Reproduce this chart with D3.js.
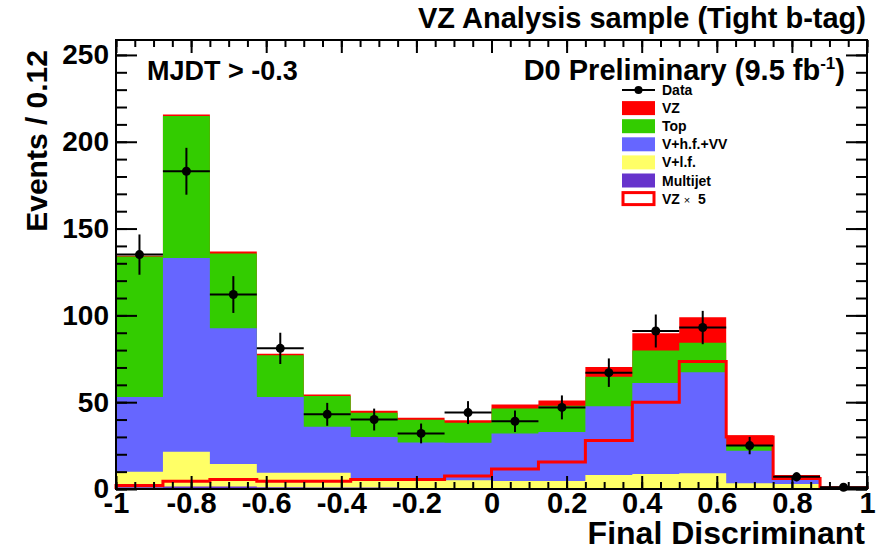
<!DOCTYPE html>
<html>
<head>
<meta charset="utf-8">
<script src="https://cdn.jsdelivr.net/npm/d3@7"></script>
<style>
  body { margin: 0; background: #fff; }
  svg { font-family: "Liberation Sans", Arial, Helvetica, sans-serif; font-weight: bold; }
</style>
</head>
<body>
<div id="chart"></div>
<script>
// 16 bins of the final discriminant, width 0.125
const binEdges = [-1, -0.875, -0.75, -0.625, -0.5, -0.375, -0.25, -0.125, 0,
                  0.125, 0.25, 0.375, 0.5, 0.625, 0.75, 0.875, 1];

// background + signal expectations per bin (stacked bottom to top)
const multijetVals = [1.0, 1.5, 1.5, 1.0, 0.8, 0.8, 0.6, 0.6, 0.5, 0.5, 0.5, 0.5, 0.5, 0.3, 0.2, 0.0];
const vlfVals      = [9.0, 19.9, 12.9, 8.4, 8.6, 4.2, 4.4, 4.4, 4.1, 4.1, 7.5, 8.1, 8.5, 3.0, 2.7, 0.0];
const vhfVals      = [43.0, 111.6, 78.2, 43.6, 26.4, 25.0, 21.8, 21.6, 27.4, 28.3, 39.6, 52.4, 58.3, 18.7, 2.3, 0.3];
const topVals      = [80.9, 81.8, 43.1, 24.0, 17.7, 13.9, 13.1, 11.5, 14.3, 15.0, 17.0, 18.7, 16.9, 3.0, 1.6, 0.1];
const vzVals       = [0.4, 0.9, 1.1, 0.9, 0.9, 1.1, 1.1, 1.5, 2.3, 3.1, 5.6, 10.0, 14.7, 6.0, 1.2, 0.15];
const vzScale = 5;

// observed events and their uncertainties
const dataVals = [135, 183, 112, 81, 43, 40, 32, 44, 39, 47, 67, 91, 93, 25, 7, 1];
const dataErr  = [11.6, 13.5, 10.6, 9.0, 6.6, 6.3, 5.7, 6.6, 6.2, 6.9, 8.2, 9.5, 9.6, 5.0, 2.6, 1.0];

const xTicks = [-1, -0.8, -0.6, -0.4, -0.2, 0, 0.2, 0.4, 0.6, 0.8, 1];
const yTicks = [0, 50, 100, 150, 200, 250];

const layers = [
  { key: "multijet", label: "Multijet",   values: multijetVals, color: "#6633cc" },
  { key: "vlf",      label: "V+l.f.",     values: vlfVals,      color: "#ffff66" },
  { key: "vhf",      label: "V+h.f.+VV",  values: vhfVals,      color: "#6666ff" },
  { key: "top",      label: "Top",        values: topVals,      color: "#33cc00" },
  { key: "vz",       label: "VZ",         values: vzVals,       color: "#ff0000" }
];

const width = 889, height = 554;
const margin = { top: 40, right: 22, bottom: 65, left: 116 };
const plotW = width - margin.left - margin.right;
const plotH = height - margin.top - margin.bottom;

const svg = d3.select("#chart").append("svg")
  .attr("width", width)
  .attr("height", height);

const x = d3.scaleLinear().domain([-1, 1]).range([0, plotW]);
const y = d3.scaleLinear().domain([0, 258.6]).range([plotH, 0]);

const g = svg.append("g").attr("transform", `translate(${margin.left},${margin.top})`);

// stack table
const table = binEdges.slice(0, -1).map((lo, i) => {
  const row = { lo: lo, hi: binEdges[i + 1] };
  layers.forEach(l => { row[l.key] = l.values[i]; });
  return row;
});
const stacked = d3.stack().keys(layers.map(l => l.key))(table);

function stepPoints(vals) {
  const pts = [];
  vals.forEach((v, i) => {
    pts.push([binEdges[i], v]);
    pts.push([binEdges[i + 1], v]);
  });
  return pts;
}

const area = d3.area()
  .x(d => x(d[0]))
  .y0(y(0))
  .y1(d => y(d[1]));

// filled histograms, drawn from the cumulative total downward
stacked.slice().reverse().forEach((s, k) => {
  const layer = layers[layers.length - 1 - k];
  g.append("path")
    .attr("d", area(stepPoints(s.map(d => d[1]))))
    .attr("fill", layer.color)
    .attr("stroke", "none");
});

// VZ x 5 outline
const outline = [[binEdges[0], 0]].concat(stepPoints(vzVals.map(v => v * vzScale)))
  .concat([[binEdges[binEdges.length - 1], 0]]);
g.append("path")
  .attr("d", d3.line().x(d => x(d[0])).y(d => y(d[1]))(outline))
  .attr("fill", "none")
  .attr("stroke", "#ff0000")
  .attr("stroke-width", 3);

// data points with error bars
const pts = g.append("g");
dataVals.forEach((v, i) => {
  const cx = x((binEdges[i] + binEdges[i + 1]) / 2);
  pts.append("line")
    .attr("x1", x(binEdges[i])).attr("x2", x(binEdges[i + 1]))
    .attr("y1", y(v)).attr("y2", y(v))
    .attr("stroke", "#000").attr("stroke-width", 2);
  pts.append("line")
    .attr("x1", cx).attr("x2", cx)
    .attr("y1", y(v - dataErr[i])).attr("y2", y(Math.min(v + dataErr[i], 258.6)))
    .attr("stroke", "#000").attr("stroke-width", 2);
  pts.append("circle")
    .attr("cx", cx).attr("cy", y(v)).attr("r", 4.5)
    .attr("fill", "#000");
});

// axes: ticks point inward on all four sides
const minorX = d3.range(0, 41).map(i => -1 + i * 0.05);
const minorY = d3.range(0, 26).map(i => i * 10);

function styleAxis(sel) {
  sel.select(".domain").remove();
  sel.selectAll("line").attr("stroke", "#000").attr("stroke-width", 2);
}

g.append("g").attr("transform", `translate(0,${plotH})`)
  .call(d3.axisBottom(x).tickValues(minorX).tickSize(-7).tickFormat(""))
  .call(styleAxis);
const xAxis = g.append("g").attr("transform", `translate(0,${plotH})`)
  .call(d3.axisBottom(x).tickValues(xTicks).tickSize(-13).tickFormat(d => String(d)))
  .call(styleAxis);
xAxis.selectAll("text")
  .attr("y", 24).attr("dy", 0)
  .attr("fill", "#000")
  .style("font-size", "29px").style("font-family", "Liberation Sans, Arial, sans-serif").style("font-weight", "bold");

g.append("g")
  .call(d3.axisTop(x).tickValues(minorX).tickSize(-7).tickFormat(""))
  .call(styleAxis);
g.append("g")
  .call(d3.axisTop(x).tickValues(xTicks).tickSize(-13).tickFormat(""))
  .call(styleAxis);

g.append("g")
  .call(d3.axisLeft(y).tickValues(minorY).tickSize(-11).tickFormat(""))
  .call(styleAxis);
const yAxis = g.append("g")
  .call(d3.axisLeft(y).tickValues(yTicks).tickSize(-21).tickPadding(7).tickFormat(d => String(d)))
  .call(styleAxis);
yAxis.selectAll("text")
  .attr("fill", "#000")
  .style("font-size", "28px").style("font-family", "Liberation Sans, Arial, sans-serif").style("font-weight", "bold");

g.append("g").attr("transform", `translate(${plotW},0)`)
  .call(d3.axisRight(y).tickValues(minorY).tickSize(-11).tickFormat(""))
  .call(styleAxis);
g.append("g").attr("transform", `translate(${plotW},0)`)
  .call(d3.axisRight(y).tickValues(yTicks).tickSize(-21).tickFormat(""))
  .call(styleAxis);

// frame
g.append("rect")
  .attr("width", plotW).attr("height", plotH)
  .attr("fill", "none").attr("stroke", "#000").attr("stroke-width", 2);

// axis titles
svg.append("text")
  .attr("x", 865).attr("y", 544)
  .attr("text-anchor", "end")
  .style("font-size", "32px")
  .text("Final Discriminant");

svg.append("text")
  .attr("transform", "translate(47,50) rotate(-90)")
  .attr("text-anchor", "end")
  .style("font-size", "30px")
  .text("Events / 0.12");

// headings
svg.append("text")
  .attr("x", 866).attr("y", 28)
  .attr("text-anchor", "end")
  .style("font-size", "29px")
  .text("VZ Analysis sample (Tight b-tag)");

const lumi = svg.append("text")
  .attr("x", 845).attr("y", 80)
  .attr("text-anchor", "end")
  .style("font-size", "29px");
lumi.append("tspan").text("D0 Preliminary (9.5 fb");
lumi.append("tspan").attr("dy", -11).style("font-size", "17px").text("-1");
lumi.append("tspan").attr("dy", 11).text(")");

svg.append("text")
  .attr("x", 147).attr("y", 80)
  .style("font-size", "27px")
  .text("MJDT > -0.3");

// legend
const legend = svg.append("g").style("font-size", "14px");
const rowH = 18.1, row0 = 90, boxX = 622, boxW = 33, boxH = 14, textX = 662;

legend.append("line")
  .attr("x1", boxX).attr("x2", boxX + boxW).attr("y1", row0).attr("y2", row0)
  .attr("stroke", "#000").attr("stroke-width", 2);
legend.append("circle")
  .attr("cx", boxX + boxW / 2).attr("cy", row0).attr("r", 4).attr("fill", "#000");
legend.append("text").attr("x", textX).attr("y", row0 + 5).text("Data");

const legendRows = layers.slice().reverse();
legendRows.forEach((l, i) => {
  const cy = row0 + (i + 1) * rowH;
  legend.append("rect")
    .attr("x", boxX).attr("y", cy - boxH / 2).attr("width", boxW).attr("height", boxH)
    .attr("fill", l.color);
  legend.append("text").attr("x", textX).attr("y", cy + 5).text(l.label);
});

const cyLast = row0 + (legendRows.length + 1) * rowH;
legend.append("rect")
  .attr("x", boxX + 1).attr("y", cyLast - boxH / 2 + 1).attr("width", boxW - 2).attr("height", boxH - 2)
  .attr("fill", "#fff").attr("stroke", "#ff0000").attr("stroke-width", 3);
const vzText = legend.append("text").attr("x", textX).attr("y", cyLast + 5);
vzText.append("tspan").text("VZ ");
vzText.append("tspan").style("font-size", "11px").style("font-weight", "normal").text("×");
vzText.append("tspan").text("  " + vzScale).attr("xml:space", "preserve");
</script>
</body>
</html>
